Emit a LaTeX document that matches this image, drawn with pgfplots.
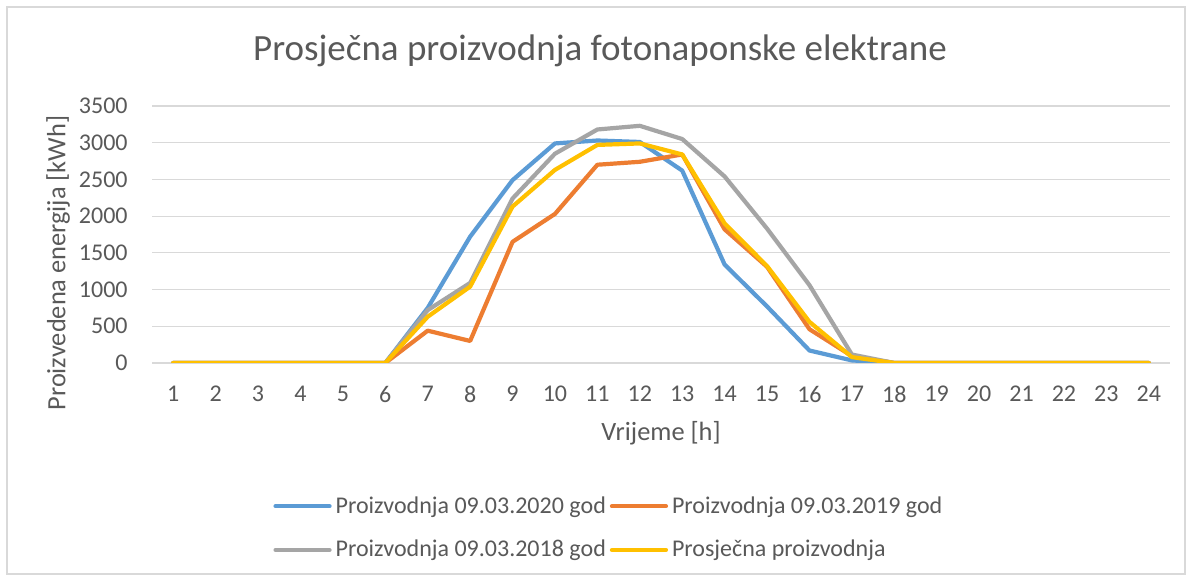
\documentclass[border=0pt]{standalone}
\usepackage{pgfplots}
\pgfplotsset{compat=1.18}
\usepackage{pgfplotstable}
\usepackage{fontspec}
\setmainfont{Carlito}
\definecolor{cBlue}{HTML}{5B9BD5}
\definecolor{cOrange}{HTML}{ED7D31}
\definecolor{cGray}{HTML}{A5A5A5}
\definecolor{cYellow}{HTML}{FFC000}
\definecolor{cText}{HTML}{595959}
\definecolor{cGrid}{HTML}{D9D9D9}

\pgfplotstableread{
h  b2020 o2019 g2018 avg
1  0    0    0    0
2  0    0    0    0
3  0    0    0    0
4  0    0    0    0
5  0    0    0    0
6  0    0    0    0
7  750  440  720  630
8  1720 300  1090 1040
9  2490 1650 2240 2130
10 2990 2030 2850 2630
11 3030 2700 3180 2970
12 3010 2740 3230 2990
13 2620 2840 3050 2840
14 1340 1820 2540 1900
15 770  1310 1830 1320
16 170  460  1060 560
17 35   95   115  80
18 0    0    0    0
19 0    0    0    0
20 0    0    0    0
21 0    0    0    0
22 0    0    0    0
23 0    0    0    0
24 0    0    0    0
}\datatable

\begin{document}
\begin{tikzpicture}
\path[use as bounding box, fill=white] (0,0) rectangle (596pt,290.5pt);
\draw[cGrid, line width=0.6pt] (3.5pt,3.5pt) rectangle (592.5pt,287pt);
\begin{axis}[
  at={(76pt,109pt)}, anchor=south west,
  scale only axis, width=509pt, height=128.5pt,
  xmin=0.5, xmax=24.5, ymin=0, ymax=3500,
  xtick={1,...,24}, ytick={0,500,...,3500},
  ymajorgrids, grid style={cGrid, line width=0.6pt},
  axis line style={draw=none}, tick style={draw=none},
  /pgf/number format/assume math mode=true,
  /pgf/number format/set thousands separator={},
  ticklabel style={font=\fontsize{12}{14}\selectfont, text=cText, inner sep=0pt},
  yticklabel style={anchor=east, xshift=-12pt},
  xticklabel style={anchor=center, yshift=-15.5pt},
  xlabel={Vrijeme [h]},
  xlabel style={at={(axis description cs:0.5,0)}, anchor=center, yshift=-35pt, font=\fontsize{13.2}{15}\selectfont, text=cText, inner sep=0pt},
  legend columns=2,
  legend style={draw=none, fill=none, at={(axis description cs:0.1189,-0.502)}, anchor=north west,
    font=\fontsize{12}{14}\selectfont, text=cText, inner sep=0pt, row sep=8pt,
    /tikz/every even column/.append style={column sep=0pt}},
  legend cell align=left,
  legend image code/.code={\draw[#1, line width=2.1pt, line cap=round] (0pt,0pt) -- (27pt,0pt);},
  every axis plot/.append style={line width=2.1pt, line join=round, line cap=round, mark=none},
]
\addplot[cBlue] table[x=h, y=b2020] {\datatable};
\addlegendentry{Proizvodnja 09.03.2020 god}
\addplot[cOrange] table[x=h, y=o2019] {\datatable};
\addlegendentry{Proizvodnja 09.03.2019 god}
\addplot[cGray] table[x=h, y=g2018] {\datatable};
\addlegendentry{Proizvodnja 09.03.2018 god}
\addplot[cYellow] table[x=h, y=avg] {\datatable};
\addlegendentry{Prosječna proizvodnja}
\end{axis}
\node[text=cText, font=\fontsize{18.5}{22}\selectfont, inner sep=0pt] at (300pt,265pt) {Prosječna proizvodnja fotonaponske elektrane};
\node[text=cText, font=\fontsize{13.2}{15}\selectfont, inner sep=0pt, rotate=90] at (29pt,159pt) {Proizvedena energija [kWh]};
\end{tikzpicture}
\end{document}
